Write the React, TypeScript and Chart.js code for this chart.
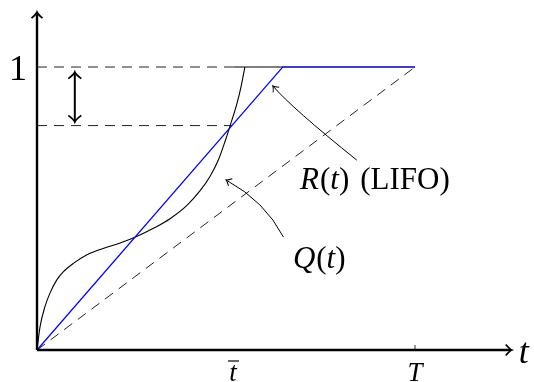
import React, { useEffect, useRef } from "react";
import { Chart, registerables } from "chart.js";

Chart.register(...registerables);

// ---- data (t in units of T, values in units of the total) ----
const qTimes = [0, 0.008, 0.021, 0.034, 0.052, 0.07, 0.096, 0.131, 0.175, 0.22, 0.262, 0.308, 0.352, 0.396, 0.431, 0.458, 0.48, 0.497, 0.511, 0.53, 0.541, 0.55];
const qValues = [0, 0.082, 0.153, 0.2, 0.247, 0.277, 0.306, 0.336, 0.359, 0.378, 0.4, 0.43, 0.464, 0.51, 0.562, 0.614, 0.672, 0.735, 0.793, 0.876, 0.938, 1.0];
const qFlatTimes = [0.52, 1];
const qFlatValues = [1, 1];
const rTimes = [0, 0.65, 1];
const rValues = [0, 1, 1];
const diagTimes = [0, 1];
const diagValues = [0, 1];
const tBar = 0.516;
const tEnd = 1;
const levelAtTBar = 0.793;
const topDashEnd = 0.52;
const xTickValues = [tBar, tEnd];
const xTickLabels = ["t\u0304", "T"];
const yTickValues = [1];
const yTickLabels = ["1"];
const axisXLabel = "t";

// annotation geometry (data coordinates)
const rArrow = { start: [0.846, 0.671], ctrl: [0.675, 0.854], end: [0.624, 0.933] };
const qArrow = { start: [0.652, 0.399], ctrl: [0.603, 0.526], end: [0.5, 0.601] };
const rLabelAt = [0.696, 0.569];
const qLabelAt = [0.677, 0.29];
const gapArrowX = 0.1;
const gapArrowFrom = 0.982;
const gapArrowTo = 0.806;
const xAxisEnd = 1.256;
const yAxisEnd = 1.194;

const X_MAX = 1.26;
const Y_MAX = 1.2;
const PX_X = 378;
const PX_Y = 283;
const ORIGIN_X = 37;
const ORIGIN_Y = 350;
const W = 534;
const H = 382;

const pts = (xs: number[], ys: number[]) => xs.map((x, i) => ({ x, y: ys[i] }));

function head(ctx: CanvasRenderingContext2D, x: number, y: number, ang: number, len: number, half: number) {
  ctx.save();
  ctx.translate(x, y);
  ctx.rotate(ang);
  ctx.beginPath();
  ctx.moveTo(-len, -half);
  ctx.quadraticCurveTo(-len * 0.35, -half * 0.15, 0, 0);
  ctx.quadraticCurveTo(-len * 0.35, half * 0.15, -len, half);
  ctx.stroke();
  ctx.restore();
}

const serif = '"Liberation Serif"';

const diagramPlugin = {
  id: "diagram",
  afterDatasetsDraw(chart: any) {
    const ctx: CanvasRenderingContext2D = chart.ctx;
    const xs = chart.scales.x;
    const ys = chart.scales.y;
    const px = (v: number) => xs.getPixelForValue(v);
    const py = (v: number) => ys.getPixelForValue(v);
    ctx.save();
    ctx.strokeStyle = "#000";
    ctx.fillStyle = "#000";
    ctx.lineCap = "butt";

    // axes
    const ox = px(0), oy = py(0);
    ctx.lineWidth = 2.4;
    ctx.beginPath();
    ctx.moveTo(ox, oy);
    ctx.lineTo(px(xAxisEnd) - 1, oy);
    ctx.moveTo(ox, oy);
    ctx.lineTo(ox, py(yAxisEnd) + 1);
    ctx.stroke();
    ctx.lineWidth = 1.8;
    head(ctx, px(xAxisEnd), oy, 0, 6, 5.5);
    head(ctx, ox, py(yAxisEnd), -Math.PI / 2, 6, 5.5);

    // tick at T
    ctx.lineWidth = 0.8;
    ctx.beginPath();
    ctx.moveTo(px(tEnd), oy);
    ctx.lineTo(px(tEnd), oy - 5);
    ctx.stroke();

    // x tick labels
    xTickValues.forEach((v, i) => {
      const lab = xTickLabels[i];
      const hasBar = lab.includes("\u0304");
      const txt = lab.replace("\u0304", "");
      ctx.font = `italic 27px ${serif}`;
      ctx.textAlign = "center";
      ctx.textBaseline = "alphabetic";
      const cx = px(v) + (hasBar ? 1 : 0);
      ctx.fillText(txt, cx, oy + 31);
      if (hasBar) {
        ctx.lineWidth = 1.2;
        ctx.beginPath();
        ctx.moveTo(cx - 5, oy + 11);
        ctx.lineTo(cx + 6, oy + 11);
        ctx.stroke();
      }
    });

    // y tick labels
    yTickValues.forEach((v, i) => {
      ctx.font = `36px ${serif}`;
      ctx.textAlign = "center";
      ctx.fillText(yTickLabels[i], ox - 19, py(v) + 13);
    });

    // axis label
    ctx.font = `italic 36px ${serif}`;
    ctx.textAlign = "left";
    ctx.fillText(axisXLabel, px(xAxisEnd) + 7, oy + 13);

    // gap double arrow
    ctx.lineWidth = 2;
    const gx = px(gapArrowX);
    const g1 = py(gapArrowFrom), g2 = py(gapArrowTo);
    ctx.beginPath();
    ctx.moveTo(gx, g1 + 1);
    ctx.lineTo(gx, g2 - 1);
    ctx.stroke();
    ctx.lineWidth = 1.8;
    head(ctx, gx, g1, -Math.PI / 2, 6.5, 6.5);
    head(ctx, gx, g2, Math.PI / 2, 6.5, 6.5);

    // annotation arrows
    ctx.lineWidth = 1;
    [rArrow, qArrow].forEach((a) => {
      const s = [px(a.start[0]), py(a.start[1])];
      const c = [px(a.ctrl[0]), py(a.ctrl[1])];
      const e = [px(a.end[0]), py(a.end[1])];
      ctx.beginPath();
      ctx.moveTo(s[0], s[1]);
      ctx.quadraticCurveTo(c[0], c[1], e[0], e[1]);
      ctx.stroke();
      const ang = Math.atan2(e[1] - c[1], e[0] - c[0]);
      head(ctx, e[0], e[1], ang, 5, 4);
    });

    // annotation labels: mixed italic / upright pieces
    const drawPieces = (pieces: [string, boolean, number][], x: number, y: number, size: number) => {
      let cx = x;
      ctx.textAlign = "left";
      pieces.forEach(([t, it, extra]) => {
        cx += extra;
        ctx.font = `${it ? "italic " : ""}${size}px ${serif}`;
        ctx.fillText(t, cx, y);
        cx += ctx.measureText(t).width;
      });
    };
    drawPieces([["R", true, 0], ["(", false, 1], ["t", true, 0], [")", false, 0], ["(LIFO)", false, 11]], px(rLabelAt[0]), py(rLabelAt[1]), 31);
    drawPieces([["Q", true, 0], ["(", false, 1], ["t", true, 0], [")", false, 0]], px(qLabelAt[0]), py(qLabelAt[1]), 31);

    ctx.restore();
  },
};

export default function App() {
  const ref = useRef<HTMLCanvasElement | null>(null);
  useEffect(() => {
    if (!ref.current) return;
    const dash = [10, 7];
    const chart = new Chart(ref.current, {
      type: "line",
      data: {
        datasets: [
          { data: pts(rTimes, rValues), borderColor: "#0000ff", borderWidth: 1.2, pointRadius: 0, order: 0, clip: false, tension: 0 } as any,
          { data: pts(qTimes, qValues), borderColor: "#000", borderWidth: 1.1, pointRadius: 0, order: 1, clip: false, cubicInterpolationMode: "monotone" } as any,
          { data: pts(qFlatTimes, qFlatValues), borderColor: "#000", borderWidth: 1.1, pointRadius: 0, order: 2, clip: false } as any,
          { data: pts(diagTimes, diagValues), borderColor: "#222", borderWidth: 1, borderDash: dash, pointRadius: 0, order: 3, clip: false } as any,
          { data: pts([0, topDashEnd], [1, 1]), borderColor: "#222", borderWidth: 1, borderDash: dash, pointRadius: 0, order: 3, clip: false } as any,
          { data: pts([0, tBar], [levelAtTBar, levelAtTBar]), borderColor: "#222", borderWidth: 1, borderDash: dash, pointRadius: 0, order: 3, clip: false } as any,
        ],
      },
      options: {
        responsive: false,
        maintainAspectRatio: false,
        animation: false,
        devicePixelRatio: 1,
        layout: {
          padding: {
            left: ORIGIN_X,
            right: W - (ORIGIN_X + X_MAX * PX_X),
            top: ORIGIN_Y - Y_MAX * PX_Y,
            bottom: H - ORIGIN_Y,
          },
        },
        plugins: { legend: { display: false }, tooltip: { enabled: false } },
        scales: {
          x: { type: "linear", min: 0, max: X_MAX, display: false },
          y: { type: "linear", min: 0, max: Y_MAX, display: false },
        },
      },
      plugins: [diagramPlugin],
    });
    return () => chart.destroy();
  }, []);
  return (
    <div style={{ position: "fixed", left: 0, top: 0, width: W, height: H, background: "#fff" }}>
      <canvas ref={ref} width={W} height={H} style={{ width: W, height: H }} />
    </div>
  );
}
